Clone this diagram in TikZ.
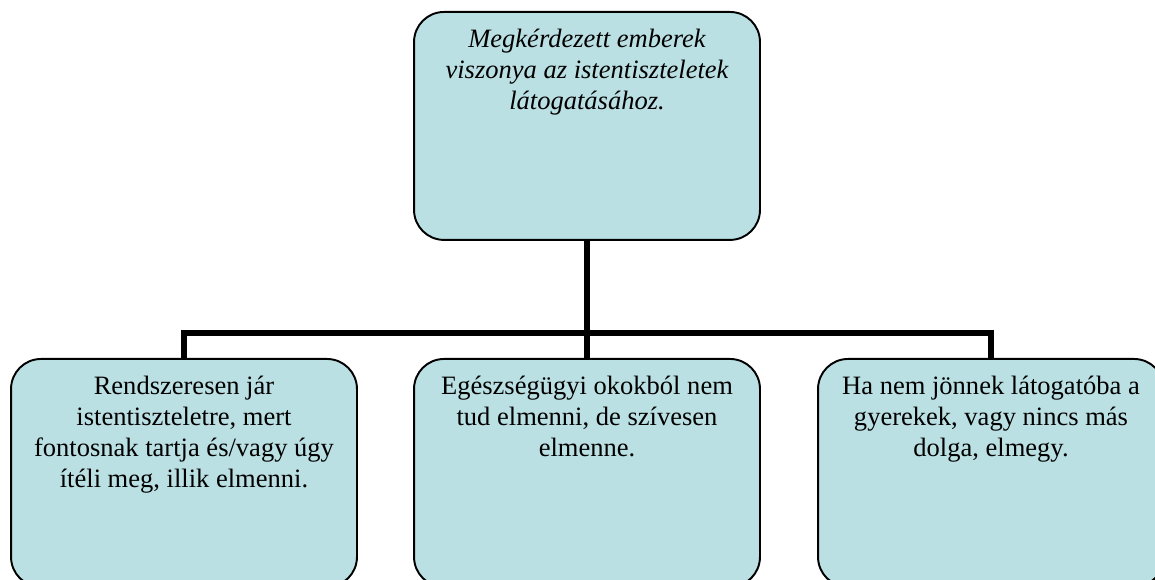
\documentclass[tikz,border=0pt]{standalone}
\usepackage{fontspec}
\setmainfont{Liberation Serif}
\definecolor{boxfill}{RGB}{187,224,227}
\newcommand{\boxtext}[1]{\parbox[c][4.56cm][t]{6.8cm}{\centering\vspace{0.34cm}#1}}
\tikzset{
	answer/.style={draw, line width=1.1pt, fill=boxfill, rounded corners=0.6cm, anchor=north,
		minimum width=6.92cm, minimum height=4.56cm, inner sep=0pt,
		font=\fontsize{15.1}{17.7}\selectfont},
	branch/.style={draw, line width=3.4pt},
}

\begin{document}
\begin{tikzpicture}[x=0.02cm,y=-0.02cm]
				\useasboundingbox (0,0) rectangle (1155,580);
				\clip (0,0) rectangle (1155,580);
				\node[answer] (top) at (587,11) {\boxtext{\itshape Megkérdezett emberek\\ viszonya az istentiszteletek\\ látogatásához.}};
				\node[answer] (left) at (184,358) {\boxtext{Rendszeresen jár\\ istentiszteletre, mert\\ fontosnak tartja és/vagy úgy\\ ítéli meg, illik elmenni.}};
				\node[answer] (mid) at (587,358) {\boxtext{Egészségügyi okokból nem\\ tud elmenni, de szívesen\\ elmenne.}};
				\node[answer] (right) at (991,358) {\boxtext{Ha nem jönnek látogatóba a\\ gyerekek, vagy nincs más\\ dolga, elmegy.}};
				\coordinate (joint) at (587,333);
				\draw[branch] (top.south) -- (joint);
				\draw[branch] (left.north) |- (joint) -| (right.north);
				\draw[branch] (joint) -- (mid.north);
			\end{tikzpicture}
\end{document}
